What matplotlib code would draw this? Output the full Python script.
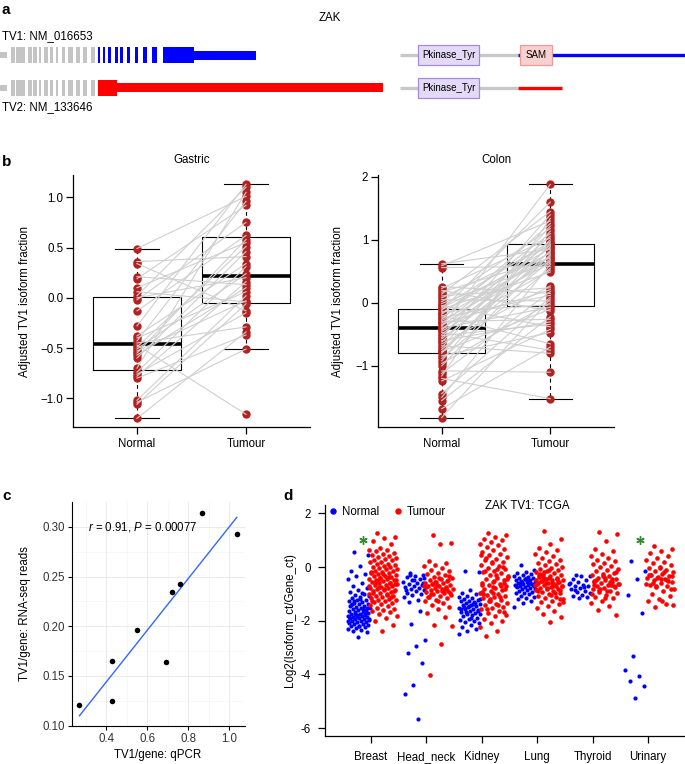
import matplotlib
matplotlib.use("Agg")
import matplotlib.pyplot as plt
import numpy as np
from matplotlib.lines import Line2D
from matplotlib.patches import Rectangle
from matplotlib.transforms import blended_transform_factory

W, H = 685, 764

plt.rcParams["font.family"] = ["Liberation Sans", "DejaVu Sans"]
plt.rcParams["font.size"] = 8.3
plt.rcParams["mathtext.fontset"] = "custom"
plt.rcParams["mathtext.it"] = "Liberation Sans:italic"
plt.rcParams["mathtext.rm"] = "Liberation Sans"

# ---------------- (a) ZAK transcript / protein structure (layout pixels)
GREY_UTR = (0, 7)
GREY_EXONS = [(11, 15), (16, 25), (28, 32), (33, 37), (39, 41), (44, 48),
              (50, 53), (56, 58), (62, 65), (68, 73), (76, 80), (83, 87),
              (91, 95)]
TV1_EXONS = [(98, 100), (103, 105), (108, 111), (115, 118), (120, 123),
             (127, 130), (135, 138), (143, 147), (152, 157), (163, 194)]
TV1_UTR = (194, 256)
TV2_EXONS = [(98, 117)]
TV2_UTR = (117, 383)
PROT_SHARED = (400, 518)
TV1_TAIL = (518, 685)
TV2_TAIL = (518, 562)
TV1_DOMAINS = [("Pkinase_Tyr", 418, 479), ("SAM", 520, 552)]
TV2_DOMAINS = [("Pkinase_Tyr", 418, 479)]

# ---------------- (b) paired normal / tumour TV1 fraction
GASTRIC_NORMAL = [0.49, 0.36, 0.34, 0.21, 0.19, 0.10, 0.06, 0.02, 0.00, -0.02,
                  -0.13, -0.28, -0.38, -0.40, -0.43, -0.45, -0.47, -0.49,
                  -0.51, -0.53, -0.55, -0.57, -0.60, -0.70, -0.74, -0.76,
                  -0.78, -0.80, -1.02, -1.04, -1.06, -1.20]
GASTRIC_TUMOUR = [1.01, 0.41, -0.13, 0.13, 0.92, 0.55, -0.04, 1.10, 0.20,
                  0.75, 0.62, 1.13, 0.34, 0.06, 0.96, -0.29, -1.16, 0.51,
                  0.24, -0.03, 0.58, 0.10, 0.46, 1.05, 0.31, -0.15, 0.16,
                  -0.37, 0.02, -0.51, -0.06, -0.34]
COLON_NORMAL = [0.62, 0.59, 0.56, 0.26, 0.23, 0.20, 0.17, 0.14, 0.11, 0.08,
                0.05, 0.02, -0.01, -0.04, -0.06, -0.08, -0.10, -0.12, -0.14,
                -0.16, -0.18, -0.20, -0.22, -0.24, -0.26, -0.28, -0.30, -0.32,
                -0.34, -0.36, -0.38, -0.40, -0.41, -0.43, -0.45, -0.47, -0.50,
                -0.52, -0.55, -0.57, -0.60, -0.62, -0.65, -0.68, -0.71, -0.74,
                -0.77, -0.78, -0.80, -0.84, -0.88, -0.92, -0.96, -1.00, -1.08,
                -1.12, -1.16, -1.20, -1.24, -1.44, -1.50, -1.55, -1.68, -1.82]
COLON_TUMOUR = [0.85, 1.30, 0.58, 0.15, 1.03, -0.13, 0.71, 1.45, 0.24, 0.91,
                0.03, 1.18, 0.65, -0.38, 0.97, 0.79, 0.49, 1.60, -0.03, 0.87,
                1.10, -0.65, 0.73, 0.12, 1.26, 0.63, -0.26, 0.95, 0.21, 0.81,
                1.88, -0.07, 0.69, 1.06, 0.52, -0.75, 0.89, -0.34, 1.40, 0.75,
                -0.30, 1.00, 0.27, -0.80, 1.22, 0.67, -0.10, 0.83, 0.93, -0.47,
                0.55, 1.14, 0.00, 0.77, -1.10, 0.18, 1.34, -1.52, -0.42, 0.09,
                0.61, -0.22, -0.70, 0.06]

# ---------------- (c) qPCR vs RNA-seq
QPCR = np.array([0.268, 0.425, 0.428, 0.550, 0.690, 0.722, 0.761, 0.867, 1.038])
RNASEQ = np.array([0.121, 0.165, 0.125, 0.196, 0.164, 0.234, 0.242, 0.314, 0.293])

# ---------------- (d) TCGA log2(isoform/gene)
CATS = ["Breast", "Head_neck", "Kidney", "Lung", "Thyroid", "Urinary"]
SIG_CATS = ["Breast", "Urinary"]
BREAST_N = """0.55 0.43 0.05 -0.13 -0.27 -0.33 -0.46 -0.61 -0.69 -0.77 -0.86 -0.93
-1.01 -1.04 -1.09 -1.13 -1.17 -1.21 -1.24 -1.27 -1.31 -1.34 -1.37 -1.39 -1.42 -1.46
-1.48 -1.51 -1.53 -1.56 -1.59 -1.61 -1.63 -1.66 -1.68 -1.71 -1.73 -1.75 -1.77 -1.79
-1.81 -1.83 -1.85 -1.87 -1.89 -1.91 -1.93 -1.95 -1.97 -1.99 -2.02 -2.04 -2.06 -2.09
-2.11 -2.13 -2.15 -2.18 -2.21 -2.24 -2.27 -2.31 -2.35 -2.38 -2.42 -2.61 -1.44 -1.58
-1.74 -1.92 -1.19 -1.36 -1.69 -1.82 -2.01 -0.97 -1.28 -1.52 -2.20 -1.88"""
HEAD_N = """-0.22 -0.28 -0.33 -0.38 -0.45 -0.50 -0.55 -0.58 -0.62 -0.66 -0.70 -0.74
-0.78 -0.82 -0.86 -0.90 -0.95 -1.00 -1.05 -1.12 -1.22 -1.30 -0.60 -0.48 -0.85 -1.64
-2.13 -2.70 -2.95 -3.20 -3.57 -4.38 -4.72 -5.66 -0.30 -0.42"""
KIDNEY_N = """-0.15 -0.19 -0.85 -0.98 -1.02 -1.06 -1.10 -1.14 -1.18 -1.22 -1.25 -1.28
-1.31 -1.34 -1.37 -1.40 -1.43 -1.46 -1.49 -1.52 -1.55 -1.58 -1.61 -1.64 -1.67 -1.70
-1.73 -1.76 -1.80 -1.84 -1.88 -1.92 -1.96 -2.00 -2.05 -2.10 -2.16 -2.22 -2.30 -2.38
-2.48 -1.38 -1.50 -1.62 -1.45 -1.57 -1.33 -1.68 -1.20 -1.90"""
LUNG_N = """0.08 -0.12 -0.18 -0.22 -0.26 -0.30 -0.33 -0.36 -0.39 -0.42 -0.45 -0.48
-0.50 -0.52 -0.55 -0.57 -0.60 -0.62 -0.64 -0.66 -0.68 -0.70 -0.72 -0.74 -0.76 -0.78
-0.80 -0.83 -0.86 -0.89 -0.92 -0.95 -0.98 -1.02 -1.06 -1.10 -1.15 -1.20 -1.27 -1.35
-1.47 -0.50 -0.58 -0.65 -0.46 -0.70 -0.61 -0.54 -0.80 -0.40"""
THYROID_N = """-0.30 -0.32 -0.35 -0.45 -0.50 -0.55 -0.62 -0.66 -0.70 -0.72 -0.78 -0.82
-0.88 -0.92 -0.98 -1.03 -1.07 -1.10 -1.15 -0.60 -0.75 -0.85"""
URINARY_N = "0.22 -0.16 -0.45 -1.03 -1.70 -3.30 -3.84 -4.05 -4.25 -4.42 -4.88"
BREAST_T = """1.28 1.13 1.08 0.97 0.84 0.72 0.65 0.62 0.58 0.51 0.49 0.44 0.41 0.37
0.35 0.29 0.26 0.25 0.19 0.17 0.13 0.11 0.07 0.04 0.02 -0.01 -0.04 -0.07 -0.08 -0.13
-0.14 -0.17 -0.22 -0.23 -0.26 -0.31 -0.32 -0.34 -0.38 -0.41 -0.43 -0.46 -0.49 -0.50
-0.53 -0.56 -0.58 -0.61 -0.62 -0.66 -0.68 -0.71 -0.74 -0.77 -0.79 -0.82 -0.85 -0.86
-0.91 -0.94 -0.97 -1.01 -1.03 -1.06 -1.09 -1.12 -1.16 -1.19 -1.21 -1.24 -1.28 -1.31
-1.34 -1.39 -1.42 -1.46 -1.51 -1.55 -1.59 -1.63 -1.67 -1.74 -1.81 -1.90 -2.02 -2.17
-2.37 -0.18 -0.36 -0.52 -0.64 -0.81 -0.96 -1.11 -0.42 -0.69 -0.99 -0.55 -0.88 -0.27
-1.27 -0.60 -0.75 -0.47"""
HEAD_T = """1.18 0.91 0.85 0.22 0.14 0.08 0.03 -0.05 -0.11 -0.16 -0.21 -0.27 -0.31
-0.36 -0.40 -0.44 -0.47 -0.52 -0.55 -0.58 -0.61 -0.64 -0.67 -0.70 -0.72 -0.75 -0.77
-0.80 -0.83 -0.86 -0.88 -0.91 -0.94 -0.97 -1.00 -1.04 -1.08 -1.12 -1.17 -1.22 -1.28
-1.34 -1.41 -1.49 -1.58 -1.70 -1.86 -2.14 -2.18 -2.88 -4.02 -0.50 -0.65 -0.73 -0.85
-0.62 -0.95 -0.40 -1.10 -0.79 -0.57 -0.69 -0.90 -1.02 -0.33 -1.25"""
KIDNEY_T = """1.27 1.20 1.13 1.06 1.00 0.94 0.87 0.81 0.74 0.68 0.62 0.55 0.49 0.43
0.37 0.31 0.26 0.20 0.14 0.09 0.03 -0.02 -0.08 -0.13 -0.18 -0.24 -0.29 -0.34 -0.39
-0.44 -0.49 -0.54 -0.58 -0.63 -0.68 -0.72 -0.77 -0.81 -0.86 -0.90 -0.95 -0.99 -1.04
-1.08 -1.13 -1.17 -1.22 -1.27 -1.32 -1.37 -1.42 -1.47 -1.53 -1.58 -1.64 -1.70 -1.77
-1.84 -1.92 -2.01 -2.10 -2.22 -2.38 -2.58 -0.60 -0.75 -0.92 -1.10 -1.25 -0.45 -0.30
-0.15 0.00 0.20 0.45 -1.40 -1.55 -0.83 -0.53 -1.00 -0.70 -1.20 -0.37 -0.06 0.35 -1.66
-0.97 -0.65"""
LUNG_T = """1.35 1.04 0.86 0.72 0.63 0.55 0.47 0.40 0.33 0.27 0.22 0.16 0.11 0.06
0.01 -0.04 -0.08 -0.12 -0.16 -0.20 -0.24 -0.28 -0.31 -0.35 -0.38 -0.41 -0.44 -0.47
-0.50 -0.53 -0.56 -0.59 -0.62 -0.65 -0.68 -0.71 -0.74 -0.77 -0.80 -0.83 -0.87 -0.90
-0.94 -0.98 -1.02 -1.06 -1.10 -1.15 -1.20 -1.25 -1.31 -1.38 -1.45 -1.53 -1.62 -1.73
-1.86 -2.05 -0.30 -0.45 -0.58 -0.66 -0.72 -0.52 -0.85 -0.40 -0.60 -0.95 -0.18 -0.70
-1.05 -0.25 -0.55 -0.78 -0.50 -0.63 -0.36 -1.20 -0.10 -0.88 -0.69 -0.43 -1.30 -0.61"""
THYROID_T = """1.30 1.22 0.97 0.66 0.58 0.50 0.42 0.35 0.28 0.22 0.16 0.10 0.05 -0.01
-0.06 -0.11 -0.16 -0.21 -0.26 -0.30 -0.35 -0.39 -0.43 -0.47 -0.51 -0.55 -0.59 -0.63
-0.67 -0.71 -0.75 -0.79 -0.83 -0.88 -0.93 -0.98 -1.04 -1.10 -1.17 -1.25 -1.34 -1.45
-1.60 -1.79 -0.40 -0.55 -0.68 -0.80 -0.62 -0.90 -0.48 -0.72 -0.33 -1.00 -0.57 -0.85
-0.20 -1.15 -0.65 -0.45"""
URINARY_T = """0.79 0.68 0.60 0.52 0.42 0.33 0.27 0.20 0.14 0.08 0.02 -0.04 -0.10 -0.15
-0.20 -0.25 -0.30 -0.34 -0.38 -0.42 -0.46 -0.50 -0.55 -0.60 -0.65 -0.70 -0.76 -0.82
-0.90 -1.00 -1.08 -1.18 -1.28 -1.38 -1.47 -0.35 -0.45 -0.28 -0.52 -0.40 -0.62 -0.18
-0.58 -0.80 -0.05 -0.30 -0.48 -0.70 -1.40 -1.25"""
NORMALS = [BREAST_N, HEAD_N, KIDNEY_N, LUNG_N, THYROID_N, URINARY_N]
TUMOURS = [BREAST_T, HEAD_T, KIDNEY_T, LUNG_T, THYROID_T, URINARY_T]

DARKRED = "#B22222"
fig = plt.figure(figsize=(W / 100, H / 100), dpi=100)


def frame(x0, y0, x1, y1):
    """axes placed by pixel box (top-left origin)"""
    return fig.add_axes([x0 / W, 1 - y1 / H, (x1 - x0) / W, (y1 - y0) / H])


def ftext(x, y, s, **kw):
    fig.text(x / W, 1 - y / H, s, **kw)


def r_stats(v):
    """R boxplot stats: Tukey hinges, whiskers at 1.5 IQR"""
    x = np.sort(np.asarray(v, float))
    n = len(x)
    n4 = np.floor((n + 3) / 2) / 2
    d = np.array([1, n4, (n + 1) / 2, n + 1 - n4, n])
    f = 0.5 * (x[np.floor(d).astype(int) - 1] + x[np.ceil(d).astype(int) - 1])
    iqr = f[3] - f[1]
    inside = x[(x >= f[1] - 1.5 * iqr) & (x <= f[3] + 1.5 * iqr)]
    return dict(med=f[2], q1=f[1], q3=f[3], whislo=inside.min(),
                whishi=inside.max(), fliers=[])


def jitter(n, half):
    return ((np.arange(n) * 0.6180339887 + 0.3) % 1 - 0.5) * 2 * half


# ---------------- panel a
ax = frame(0, 0, W, 125)
ax.set_xlim(0, W)
ax.set_ylim(125, 0)
ax.axis("off")


def transcript(yc, exons, utr, color):
    ax.add_patch(Rectangle((GREY_UTR[0], yc - 3), GREY_UTR[1] - GREY_UTR[0], 6,
                           color="#C4C4C4", lw=0))
    for a, b in GREY_EXONS:
        ax.add_patch(Rectangle((a, yc - 8), b - a, 16, color="#C4C4C4", lw=0))
    for a, b in exons:
        ax.add_patch(Rectangle((a, yc - 8), b - a, 16, color=color, lw=0))
    ax.add_patch(Rectangle((utr[0], yc - 4.5), utr[1] - utr[0], 9,
                           color=color, lw=0))


def protein(yc, tail, domains, color):
    ax.plot(PROT_SHARED, [yc, yc], color="#C8C8C8", lw=2.4, solid_capstyle="butt")
    ax.plot(tail, [yc, yc], color=color, lw=2.4, solid_capstyle="butt")
    for name, a, b in domains:
        if name == "SAM":
            fc, ec = "#F9D0D0", "#E29C9C"
        else:
            fc, ec = "#E4D9F6", "#A58ADA"
        ax.add_patch(Rectangle((a, yc - 10), b - a, 20, facecolor=fc,
                               edgecolor=ec, lw=0.9, zorder=3))
        ax.text((a + b) / 2, yc, name, ha="center", va="center", fontsize=7,
                zorder=4)


transcript(55, TV1_EXONS, TV1_UTR, "#0000FF")
transcript(87.5, TV2_EXONS, TV2_UTR, "#FF0000")
protein(55, TV1_TAIL, TV1_DOMAINS, "#0000FF")
protein(88, TV2_TAIL, TV2_DOMAINS, "#FF0000")
ax.text(2, 36, "TV1: NM_016653", ha="left", va="center", fontsize=8.3)
ax.text(2, 107, "TV2: NM_133646", ha="left", va="center", fontsize=8.3)
ax.text(330, 18, "ZAK", ha="center", va="center", fontsize=8.3)


# ---------------- panel b
def paired(x0, x1, normal, tumour, ylim, yticks, fmt):
    ax = frame(x0, 175, x1, 427)
    ax.bxp([r_stats(normal), r_stats(tumour)], positions=[1, 2], widths=0.8,
           capwidths=0.4, showfliers=False,
           boxprops=dict(color="black", lw=0.8),
           whiskerprops=dict(color="black", lw=0.8, ls=(0, (3.5, 3))),
           capprops=dict(color="black", lw=0.8),
           medianprops=dict(color="black", lw=2.6, solid_capstyle="butt"),
           zorder=1)
    ax.scatter(np.ones(len(normal)), normal, s=36, color=DARKRED, lw=0, zorder=2)
    ax.scatter(np.full(len(tumour), 2), tumour, s=36, color=DARKRED, lw=0,
               zorder=2)
    for a, b in zip(normal, tumour):
        ax.plot([1, 2], [a, b], color="#CFCFCF", lw=0.8, zorder=3)
    ax.set_xlim(0.413, 2.587)
    ax.set_ylim(*ylim)
    ax.set_xticks([1, 2])
    ax.set_xticklabels(["Normal", "Tumour"])
    ax.set_yticks(yticks)
    ax.set_yticklabels([fmt.format(v).replace("-", "\u2212") for v in yticks])
    for s in ("top", "right"):
        ax.spines[s].set_visible(False)
    for s in ("left", "bottom"):
        ax.spines[s].set_linewidth(0.9)
    ax.tick_params(length=5, width=0.9, pad=2, labelsize=8.3)
    ax.tick_params(axis="x", pad=3)
    return ax


paired(73, 310, GASTRIC_NORMAL, GASTRIC_TUMOUR, (-1.286, 1.222),
       [-1.0, -0.5, 0.0, 0.5, 1.0], "{:.1f}")
paired(378, 614, COLON_NORMAL, COLON_TUMOUR, (-1.97, 2.03),
       [-1, 0, 1, 2], "{:d}")
ftext(192, 160, "Gastric", ha="center", va="center")
ftext(496, 160, "Colon", ha="center", va="center")
ftext(25, 301, "Adjusted TV1 isoform fraction", rotation=90, ha="center",
      va="center")
ftext(338, 301, "Adjusted TV1 isoform fraction", rotation=90, ha="center",
      va="center")

# ---------------- panel c
ax = frame(72, 502, 245, 726)
ax.set_xticks([0.4, 0.6, 0.8, 1.0])
ax.set_xticks([0.3, 0.5, 0.7, 0.9], minor=True)
ax.set_yticks([0.10, 0.15, 0.20, 0.25, 0.30])
ax.set_yticks([0.125, 0.175, 0.225, 0.275], minor=True)
ax.set_yticklabels(["0.10", "0.15", "0.20", "0.25", "0.30"])
ax.set_xticklabels(["0.4", "0.6", "0.8", "1.0"])
ax.grid(which="major", color="#E6E6E6", lw=0.6)
ax.grid(which="minor", color="#F2F2F2", lw=0.4)
ax.set_axisbelow(True)
slope, icpt = np.polyfit(QPCR, RNASEQ, 1)
xs = np.array([QPCR.min(), QPCR.max()])
ax.plot(xs, slope * xs + icpt, color="#3366FF", lw=1.0, zorder=2)
ax.scatter(QPCR, RNASEQ, s=16, color="black", lw=0, zorder=3)
ax.text(0.31, 0.30, r"$r$ = 0.91, $P$ = 0.00077", ha="left", va="center",
        fontsize=8.3)
ax.set_xlim(0.2315, 1.0785)
ax.set_ylim(0.0996, 0.325)
for s in ("top", "right"):
    ax.spines[s].set_visible(False)
for s in ("left", "bottom"):
    ax.spines[s].set_linewidth(0.8)
ax.tick_params(which="major", length=3, width=0.8, pad=2, labelsize=8.3,
               labelcolor="#333333")
ax.tick_params(which="minor", length=0)
ftext(158, 755, "TV1/gene: qPCR", ha="center", va="center")
ftext(25, 614, "TV1/gene: RNA-seq reads", rotation=90, ha="center",
      va="center")

# ---------------- panel d
ax = frame(325, 505, 685, 736)
for i, (nv, tv) in enumerate(zip(NORMALS, TUMOURS), start=1):
    nv = np.array(nv.split(), float)
    tv = np.array(tv.split(), float)
    ax.scatter(i - 0.22 + jitter(len(nv), 0.2), nv, s=9, color="#0000FF", lw=0)
    ax.scatter(i + 0.22 + jitter(len(tv), 0.26), tv, s=11, color="#FF0000", lw=0)
for cat in SIG_CATS:
    i = CATS.index(cat) + 1
    ax.plot(i - 0.14, 1.0, marker=(6, 2, 0), ms=6, mew=1.0, color="#2E8B2E")
ax.set_xlim(0.17, 6.67)
ax.set_ylim(-6.29, 2.31)
ax.set_xticks(range(1, len(CATS) + 1))
ax.set_xticklabels([])
xlab_tr = blended_transform_factory(ax.transData, ax.transAxes)
for i, cat in enumerate(CATS, start=1):
    # baseline a fixed distance below the x axis (24 px)
    ax.text(i, -24 / 231, cat, transform=xlab_tr, ha="center", va="baseline",
            fontsize=8.3)
ax.set_yticks([-6, -4, -2, 0, 2])
ax.set_yticklabels(["-6", "-4", "-2", "0", "2"])
for s in ("top", "right"):
    ax.spines[s].set_visible(False)
for s in ("left", "bottom"):
    ax.spines[s].set_linewidth(0.9)
ax.tick_params(length=5, width=0.9, labelsize=8.3)
ax.tick_params(axis="y", pad=5)
handles = [Line2D([], [], ls="", marker="o", ms=3.6, color="#0000FF", label="Normal"),
           Line2D([], [], ls="", marker="o", ms=3.6, color="#FF0000", label="Tumour")]
ax.legend(handles=handles, loc="upper left", bbox_to_anchor=(0.009, 0.995),
          ncol=2, frameon=False, borderaxespad=0, borderpad=0,
          handlelength=0.8, handletextpad=0.4, columnspacing=1.2,
          fontsize=8.3)
ftext(527, 506, "ZAK TV1: TCGA", ha="center", va="center")
ftext(290, 620, "Log2(Isoform_ct/Gene_ct)", rotation=90, ha="center",
      va="center")

# panel letters
for lab, x, y in (("a", 2, 10), ("b", 2, 162), ("c", 2, 496), ("d", 283, 496)):
    ftext(x, y, lab, ha="left", va="center", fontsize=11, fontweight="bold")

fig.savefig("out.png", dpi=100)
